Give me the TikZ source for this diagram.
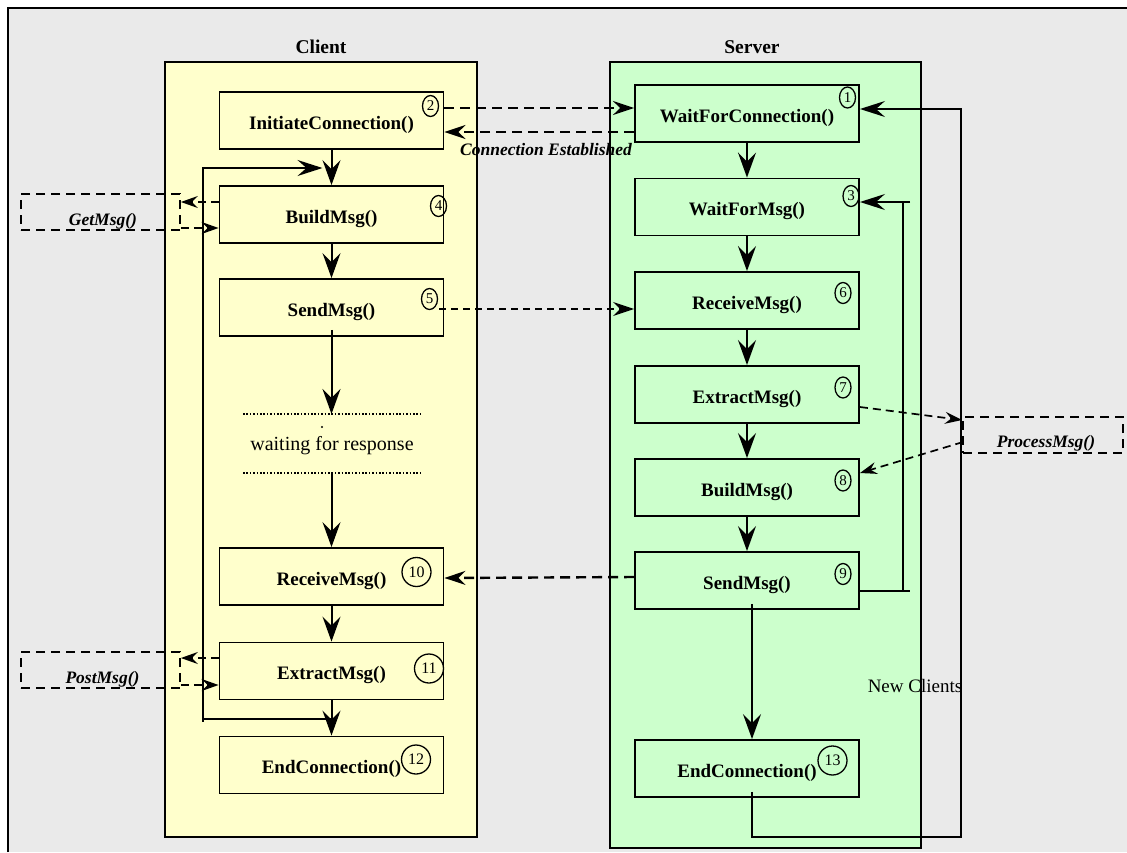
\documentclass[tikz,border=0pt]{standalone}
\usepackage{fontspec}
\setmainfont{Liberation Serif}
\usetikzlibrary{arrows.meta,shapes.geometric}
\definecolor{bggrey}{HTML}{EAEAEA}
\definecolor{clientfill}{HTML}{FFFFCC}
\definecolor{serverfill}{HTML}{CCFFCC}
\begin{document}
\begin{tikzpicture}[x=1pt,y=-1pt,
  container/.style={draw, line width=2pt, inner sep=0pt},
  title/.style={font=\fontsize{19.5}{22}\selectfont\bfseries, inner sep=0pt},
  box/.style={draw, line width=1.9pt, minimum width=224pt, minimum height=57pt, inner sep=0pt, text height=19pt, text depth=2pt, font=\fontsize{19}{22}\selectfont\bfseries},
  cbox/.style={box, fill=clientfill},
  sbox/.style={box, fill=serverfill},
  num/.style={draw, ellipse, line width=1.3pt, minimum width=16pt, minimum height=21pt, inner sep=0pt, font=\fontsize{15}{15}\selectfont},
  bignum/.style={draw, circle, line width=1.3pt, minimum size=29pt, inner sep=0pt, font=\fontsize{16}{16}\selectfont},
  flow/.style={line width=2pt, -{Stealth[length=25pt,width=18pt,inset=9pt]}},
  loopline/.style={line width=1.7pt},
  looparrow/.style={line width=1.7pt, -{Stealth[length=25pt,width=16pt,inset=9pt]}},
  dflow/.style={line width=2.4pt, dash pattern=on 10pt off 6pt, -{Stealth[length=21pt,width=14pt,inset=7pt]}},
  dthin/.style={line width=1.7pt, dash pattern=on 7pt off 5pt, -{Stealth[length=21pt,width=14pt,inset=7pt]}},
  dsmall/.style={line width=1.7pt, dash pattern=on 8pt off 5pt, -{Stealth[length=17pt,width=12pt,inset=6pt]}},
  dbox/.style={draw, line width=1.7pt, dash pattern=on 9pt off 6pt, minimum width=159pt, minimum height=36pt, inner sep=0pt},
  ital/.style={font=\fontsize{17.5}{20}\selectfont\bfseries\itshape, inner sep=0pt},
  plain/.style={font=\fontsize{20}{22}\selectfont, inner sep=0pt},
  dotline/.style={line width=1.8pt, dash pattern=on 1.6pt off 1.8pt}
]
\useasboundingbox (0,0) rectangle (1127,852);
% frame
\fill[white] (0,0) rectangle (1127,852);
\fill[bggrey] (8,8) rectangle (1127,852);
\draw[line width=2.5pt] (8,852) -- (8,8) -- (1127,8);

% containers
\node[container, fill=clientfill, minimum width=312pt, minimum height=775pt] (client) at (321,449.5) {};
\node[container, fill=serverfill, minimum width=311pt, minimum height=786pt] (server) at (765.5,455) {};
\node[title] (clientt) at (321,47) {Client};
\node[title] (servert) at (752,47) {Server};

% client boxes
\node[cbox] (cinit) at (331.5,120.5) {InitiateConnection()};
\node[cbox] (cbuild) at (331.5,214.5) {BuildMsg()};
\node[cbox] (csend) at (331.5,307.5) {SendMsg()};
\node[cbox] (crecv) at (331.5,576.5) {ReceiveMsg()};
\node[cbox] (cextr) at (331.5,671) {ExtractMsg()};
\node[cbox] (cend) at (331.5,765) {EndConnection()};

% server boxes
\node[sbox] (swfc) at (747,113.5) {WaitForConnection()};
\node[sbox] (swfm) at (747,207) {WaitForMsg()};
\node[sbox] (srecv) at (747,300.5) {ReceiveMsg()};
\node[sbox] (sextr) at (747,394.5) {ExtractMsg()};
\node[sbox] (sbuild) at (747,487.5) {BuildMsg()};
\node[sbox] (ssend) at (747,580.5) {SendMsg()};
\node[sbox] (send) at (747,768.5) {EndConnection()};

% numbers
\node[num] (n1) at (847.5,97.5) {1};
\node[num] (n2) at (430.5,106) {2};
\node[num] (n3) at (851,196) {3};
\node[num] (n4) at (438.5,206) {4};
\node[num] (n5) at (429.5,299) {5};
\node[num] (n6) at (843,293) {6};
\node[num] (n7) at (843,387.5) {7};
\node[num] (n8) at (843,480.5) {8};
\node[num] (n9) at (843,574) {9};
\node[bignum] (n10) at (416.5,572) {10};
\node[bignum] (n11) at (429,668.5) {11};
\node[bignum] (n12) at (416,759.5) {12};
\node[bignum] (n13) at (832.5,760.5) {13};

% side dashed boxes
\node[dbox] (getbox) at (100.5,212) {};
\node[ital] (getlbl) at (103,221) {GetMsg()};
\node[dbox] (postbox) at (100.5,670) {};
\node[ital] (postlbl) at (102.5,679) {PostMsg()};
\node[dbox, minimum width=160pt] (procbox) at (1043,435) {};
\node[ital] (proclbl) at (1046,443) {ProcessMsg()};

% client flow
\draw[flow] (cinit.south) -- (cbuild.north);
\draw[flow] (cbuild.south) -- (csend.north);
\coordinate (dot1a) at (243,414);
\coordinate (dot1b) at (423,414);
\coordinate (dot2a) at (243,473);
\coordinate (dot2b) at (423,473);
\draw[dotline] (dot1a) -- (dot1b);
\draw[dotline] (dot2a) -- (dot2b);
\fill (322,427) circle (1.2pt);
\node[plain] (wait) at (332,446) {waiting for response};
\draw[flow] ([yshift=7pt]csend.south) -- (csend.south |- dot1a);
\draw[flow] (csend.south |- dot2a) -- (crecv.north);
\draw[flow] (crecv.south) -- (cextr.north);
\draw[flow] (cextr.south) -- (cend.north);

% client loop
\coordinate (cl1) at (203,719);
\coordinate (cl2) at (203,168);
\draw[loopline] (cextr.south |- cl1) -- (cl1) -- (203,722);
\draw[looparrow] (cl1) -- (cl2) -- ([xshift=-9pt]cinit.south |- cl2);

% GetMsg / PostMsg
\draw[dsmall] (cbuild.west |- 0,202) -- (getbox.east |- 0,202);
\draw[dsmall] (getbox.east |- 0,228) -- (cbuild.west |- 0,228);
\draw[dsmall] (cextr.west |- 0,658) -- (postbox.east |- 0,658);
\draw[dsmall] (postbox.east |- 0,685) -- (cextr.west |- 0,685);

% server flow
\draw[flow] (swfc.south) -- (swfm.north);
\draw[flow] (swfm.south) -- (srecv.north);
\draw[flow] (srecv.south) -- (sextr.north);
\draw[flow] (sextr.south) -- (sbuild.north);
\draw[flow] (sbuild.south) -- (ssend.north);
\draw[flow] ([xshift=5pt,yshift=6pt]ssend.south) -- ([xshift=5pt]send.north);

% server inner loop
\coordinate (sl1) at (903,591);
\coordinate (sl2) at (903,202);
\draw[loopline] (ssend.east |- sl1) -- (910,591);
\draw[loopline] (sl1) -- (sl2);
\draw[looparrow] (910,202) -- (swfm.east |- sl2);

% new clients loop
\coordinate (nc1) at (752,837);
\coordinate (nc2) at (961,837);
\coordinate (nc3) at (961,109);
\draw[looparrow] ([xshift=5pt,yshift=6pt]send.south) -- (nc1) -- (nc2) -- (nc3) -- (swfc.east |- nc3);
\node[plain, font=\fontsize{19}{22}\selectfont] (newcl) at (915,686) {New Clients};

% client-server messages
\draw[dflow] (cinit.east |- 0,108) -- (swfc.west |- 0,108);
\draw[dflow] (swfc.west |- 0,132) -- (cinit.east |- 0,132);
\node[ital] (connlbl) at (546,150) {Connection Established};
\draw[dthin] ([xshift=-5pt]csend.east |- 0,309) -- (srecv.west |- 0,309);
\draw[dflow] (ssend.west |- 0,577) -- (crecv.east |- 0,578);

% ProcessMsg
\draw[dsmall] (sextr.east |- 0,407) -- (962,420);
\draw[dsmall] (963,442) -- (sbuild.east |- 0,473);
\end{tikzpicture}
\end{document}
